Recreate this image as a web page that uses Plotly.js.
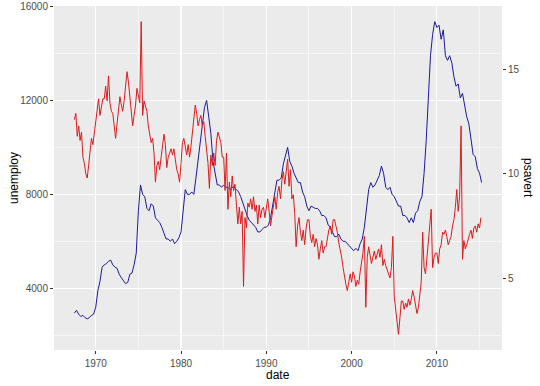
<!DOCTYPE html>
<html>
<head>
<meta charset="utf-8">
<script src="https://cdn.plot.ly/plotly-3.0.1.min.js"></script>
<style>html,body{margin:0;padding:0;background:#fff;}#chart{width:540px;height:386px;}</style>
</head>
<body>
<div id="chart"></div>
<script>
// unemploy (thousands), quarterly samples starting 1967-07
const unemployStart = [1967, 7];
const unemploy = [
  2944, 3066,
  2900, 2800, 2850, 2750,
  2700, 2750, 2850, 2900,
  3200, 3900, 4300, 4900,
  5000, 5050, 5150, 5200,
  5000, 4900, 4850, 4600,
  4450, 4300, 4200, 4250,
  4600, 4650, 5000, 5500,
  7300, 8400, 8000, 7900,
  7400, 7300, 7600, 7500,
  7000, 6900, 6800, 6600,
  6300, 6100, 6100, 6000,
  6100, 5900, 6000, 6150,
  6400, 7300, 8200, 8000,
  8000, 8100, 8000, 8700,
  9400, 10200, 10800, 11700,
  12000, 11300, 10600, 9400,
  8900, 8400, 8400, 8300,
  8400, 8300, 8300, 8200,
  8300, 8300, 8200, 8100,
  7900, 7600, 7400, 7100,
  6900, 6800, 6700, 6600,
  6400, 6400, 6500, 6600,
  6600, 6700, 7000, 7500,
  8000, 8600, 8600, 8700,
  9300, 9600, 10000, 9400,
  9200, 8900, 8700, 8500,
  8500, 8100, 7900, 7500,
  7300, 7500, 7450, 7400,
  7400, 7300, 7100, 7100,
  7000, 6700, 6600, 6400,
  6200, 6200, 6300, 6100,
  6000, 6000, 5900, 5800,
  5700, 5600, 5700, 5600,
  5900, 6100, 6600, 7400,
  8200, 8500, 8300, 8400,
  8600, 8800, 9200, 8900,
  8300, 8200, 8300, 8000,
  7900, 7700, 7500, 7500,
  7100, 7100, 7000, 6800,
  7000, 6800, 7200, 7300,
  7700, 7900, 8900, 10300,
  12000, 13900, 14800, 15350,
  15100, 15200, 14600, 15000,
  13900, 13700, 13900, 13600,
  13000, 12600, 12700, 12100,
  12300, 11700, 11300, 11000,
  10300, 9700, 9600, 9100,
  8900, 8500
];
const unemployStepMonths = 3;

// psavert (%), bimonthly samples starting 1967-07
const psavertStart = [1967, 7];
const psavert = [
  12.6, 12.9, 11.8,
  12.3, 11.6, 12.0, 10.8, 10.5, 10.0,
  9.8, 10.4, 11.2, 11.7, 11.4, 11.9,
  12.4, 12.9, 13.6, 12.8, 13.3, 13.6,
  13.6, 14.2, 13.5, 14.7, 13.4, 13.0,
  12.9, 12.2, 11.7, 12.4, 13.0, 13.7,
  13.3, 13.0, 13.5, 14.2, 14.9, 14.4,
  13.6, 13.2, 12.3, 12.8, 13.3, 14.1,
  13.8, 13.4, 17.3, 12.8, 13.5, 13.2,
  13.0, 12.3, 11.9, 11.5, 11.7, 11.0,
  9.6, 10.4, 10.6, 10.2, 10.8, 11.3,
  11.9, 11.4, 10.3, 10.8, 11.0, 11.2,
  10.9, 11.2, 10.7, 10.2, 10.0, 9.6,
  10.5, 11.5, 11.7, 11.2, 10.9, 11.4,
  10.8, 11.3, 12.0, 12.6, 13.3, 12.9,
  12.3, 12.6, 12.8, 12.3, 12.5, 11.8,
  11.2, 10.5, 9.3, 10.9, 10.4, 11.0,
  10.4, 11.6, 12.0, 11.8, 11.5, 10.8,
  10.8, 9.2, 11.0, 8.3, 9.6, 8.9,
  9.9, 9.2, 9.5, 8.5, 7.6, 8.4,
  7.6, 8.2, 4.6, 7.9, 7.4, 8.6,
  8.4, 8.8, 8.3, 8.9, 8.2, 8.5,
  7.6, 8.5, 7.9, 8.3, 8.4, 7.9,
  8.3, 8.8, 8.2, 7.5, 8.0, 8.5,
  8.9, 8.3, 9.1, 9.4, 8.8, 9.7,
  10.1, 9.5, 10.2, 10.7, 9.4, 10.2,
  8.8, 9.0, 8.1, 6.5, 7.5, 7.9,
  7.2, 6.8, 7.3, 6.6, 7.4, 7.8,
  7.8, 7.0, 6.7, 7.1, 6.5, 6.9,
  6.6, 5.9, 6.4, 6.8, 6.2, 6.5,
  6.5, 6.9, 7.3, 7.5, 7.1, 7.8,
  7.8, 7.5, 7.2, 6.7, 6.4, 6.0,
  5.5, 5.0, 4.7, 4.4, 4.9, 5.2,
  4.8, 5.3, 5.1, 4.6, 4.9, 4.7,
  5.3, 5.8, 6.2, 7.0, 3.6, 6.0,
  6.5, 6.1, 5.7, 6.0, 6.3, 5.9,
  6.2, 6.4, 6.0, 6.6, 5.6, 5.9,
  5.6, 5.4, 5.2, 5.0, 5.5, 7.0,
  4.1, 3.5, 2.9, 2.3, 3.1, 3.9,
  3.9, 3.5, 3.8, 3.6, 4.0, 3.7,
  4.0, 4.4, 4.1, 3.7, 3.3, 3.6,
  4.2, 4.8, 7.2, 5.5, 5.2, 6.0,
  6.8, 7.3, 8.3, 5.5, 6.0, 6.2,
  6.2, 5.7, 6.4, 6.6, 7.2, 7.1,
  7.3, 7.0, 6.6, 6.8, 7.0, 7.5,
  7.8, 8.4, 9.25, 8.2, 8.9, 12.3,
  5.9, 6.8, 6.4, 6.6, 6.9, 7.1,
  7.3, 6.9, 7.4, 7.5, 7.2, 7.6,
  7.4, 7.9
];
const psavertStepMonths = 2;

const xTickYears = [1970, 1980, 1990, 2000, 2010];
const xMinorYears = [1975, 1985, 1995, 2005, 2015];
const yTicks = [4000, 8000, 12000, 16000];
const yMinor = [2000, 6000, 10000, 14000];
const y2Ticks = [5, 10, 15];

function monthDates(start, step, n) {
  const out = [];
  for (let i = 0; i < n; i++) {
    const m0 = (start[0] * 12 + (start[1] - 1)) + i * step;
    const y = Math.floor(m0 / 12), m = (m0 % 12) + 1;
    out.push(y + '-' + String(m).padStart(2, '0') + '-01');
  }
  return out;
}
const uDates = monthDates(unemployStart, unemployStepMonths, unemploy.length);
const pDates = monthDates(psavertStart, psavertStepMonths, psavert.length);

const coeff = Math.max(...unemploy) / Math.max(...psavert);
const lo = Math.min(Math.min(...unemploy), Math.min(...psavert) * coeff);
const hi = Math.max(Math.max(...unemploy), Math.max(...psavert) * coeff);
const pad = (hi - lo) * 0.05;
const yRange = [lo - pad, hi + pad];

// ggplot-style date expansion
const d0 = new Date(uDates[0]).getTime(), d1 = new Date(uDates[uDates.length - 1]).getTime();
const dp = (d1 - d0) * 0.05;
const xRange = [new Date(d0 - dp).toISOString().slice(0, 10), new Date(d1 + dp).toISOString().slice(0, 10)];

const font = 'Liberation Sans, Arial, sans-serif';

const traces = [
  {x: uDates, y: unemploy, type: 'scatter', mode: 'lines', name: 'unemploy',
   line: {color: '#1a1aa0', width: 1}, yaxis: 'y'},
  {x: pDates, y: psavert, type: 'scatter', mode: 'lines', name: 'psavert',
   line: {color: '#dc1c1c', width: 1}, yaxis: 'y2'}
];

const layout = {
  width: 540, height: 386,
  margin: {l: 54, r: 38, t: 6, b: 36, pad: 0},
  paper_bgcolor: '#ffffff', plot_bgcolor: '#EBEBEB',
  showlegend: false,
  font: {family: font, size: 10, color: '#4D4D4D'},
  xaxis: {
    type: 'date', range: xRange,
    tickmode: 'array', tickvals: xTickYears.map(y => y + '-01-01'), ticktext: xTickYears.map(String),
    ticks: 'outside', ticklen: 3, tickwidth: 1, tickcolor: '#333333',
    ticklabelstandoff: 1,
    tickfont: {size: 10, color: '#4D4D4D', family: font},
    showgrid: true, gridcolor: '#ffffff', gridwidth: 1.1,
    minor: {tickmode: 'array', tickvals: xMinorYears.map(y => y + '-01-01'), showgrid: true, gridcolor: '#ffffff', gridwidth: 0.55, ticks: ''},
    zeroline: false, showline: false, fixedrange: true
  },
  yaxis: {
    range: yRange,
    tickmode: 'array', tickvals: yTicks, ticktext: yTicks.map(String),
    ticks: 'outside', ticklen: 3, tickwidth: 1, tickcolor: '#333333',
    tickfont: {size: 10, color: '#4D4D4D', family: font},
    showgrid: true, gridcolor: '#ffffff', gridwidth: 1.1,
    minor: {tickmode: 'array', tickvals: yMinor, showgrid: true, gridcolor: '#ffffff', gridwidth: 0.55, ticks: ''},
    zeroline: false, showline: false, fixedrange: true
  },
  yaxis2: {
    overlaying: 'y', side: 'right',
    range: [yRange[0] / coeff, yRange[1] / coeff],
    tickmode: 'array', tickvals: y2Ticks, ticktext: y2Ticks.map(String),
    ticks: 'outside', ticklen: 3, tickwidth: 1, tickcolor: '#333333',
    tickfont: {size: 10, color: '#4D4D4D', family: font},
    showgrid: false, zeroline: false, showline: false, fixedrange: true
  },
  annotations: [
    {text: 'date', xref: 'paper', yref: 'paper', x: 0.5, y: (350 - 375) / 344,
     xanchor: 'center', yanchor: 'middle', showarrow: false, font: {size: 12, color: '#000000', family: font}},
    {text: 'unemploy', xref: 'paper', yref: 'paper', x: (14 - 54) / 448, y: 0.5, textangle: -90,
     xanchor: 'center', yanchor: 'middle', showarrow: false, font: {size: 12, color: '#000000', family: font}},
    {text: 'psavert', xref: 'paper', yref: 'paper', x: (528 - 54) / 448, y: 0.5, textangle: 90,
     xanchor: 'center', yanchor: 'middle', showarrow: false, font: {size: 12, color: '#000000', family: font}}
  ]
};

Plotly.newPlot('chart', traces, layout, {displayModeBar: false, staticPlot: true});
</script>
</body>
</html>
